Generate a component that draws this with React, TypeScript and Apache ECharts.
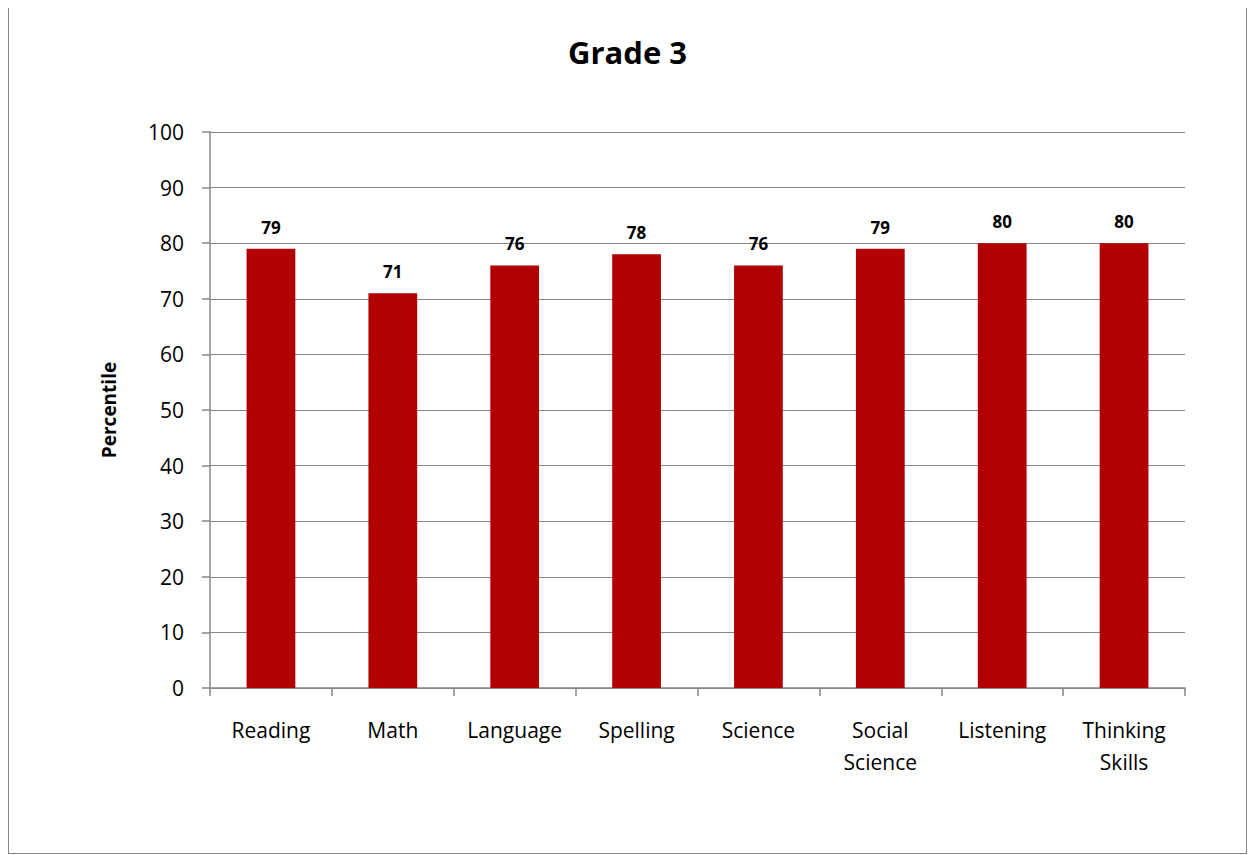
import React, { useEffect, useRef } from "react";
import * as echarts from "echarts";

const categories = ["Reading", "Math", "Language", "Spelling", "Science", "Social\nScience", "Listening", "Thinking\nSkills"];
const values = [79, 71, 76, 78, 76, 79, 80, 80];
const yTicks = { min: 0, max: 100, interval: 10 };

const FONT = "'Open Sans', 'Noto Sans', sans-serif";

export default function App() {
  const ref = useRef<HTMLDivElement>(null);
  useEffect(() => {
    if (!ref.current) return;
    const chart = echarts.init(ref.current, null, { renderer: "svg" });
    chart.setOption({
      animation: false,
      backgroundColor: "#ffffff",
      title: {
        text: "Grade 3",
        left: "center",
        top: 23,
        textStyle: { fontFamily: FONT, fontSize: 31, fontWeight: "bold", color: "#000" },
      },
      grid: { left: 201, right: 61, top: 124, bottom: 165, containLabel: false },
      xAxis: {
        type: "category",
        data: categories,
        axisLine: { lineStyle: { color: "#868686", width: 1.5 } },
        axisTick: { show: true, length: 8, lineStyle: { color: "#868686", width: 1.5 } },
        axisLabel: { fontFamily: FONT, fontSize: 21, color: "#000", margin: 26, lineHeight: 32, interval: 0 },
      },
      yAxis: {
        type: "value",
        min: yTicks.min,
        max: yTicks.max,
        interval: yTicks.interval,
        name: "Percentile",
        nameLocation: "middle",
        nameRotate: 90,
        nameGap: 92,
        nameTextStyle: { fontFamily: FONT, fontSize: 19, fontWeight: "bold", color: "#000" },
        axisLine: { show: true, lineStyle: { color: "#868686", width: 1.5 } },
        axisTick: { show: true, length: 8, lineStyle: { color: "#868686", width: 1.5 } },
        axisLabel: { fontFamily: FONT, fontSize: 21, color: "#000", margin: 26 },
        splitLine: { show: true, lineStyle: { color: "#868686", width: 1 } },
      },
      series: [
        {
          type: "bar",
          data: values,
          barWidth: "40%",
          itemStyle: { color: "#B00000" },
          label: {
            show: true,
            position: "top",
            distance: 13,
            fontFamily: FONT,
            fontSize: 17,
            fontWeight: "bold",
            color: "#000",
          },
        },
      ],
    });
    return () => chart.dispose();
  }, []);
  return (
    <div
      style={{
        width: 1239,
        height: 847,
        border: "1px solid #878787",
        boxSizing: "border-box",
        marginTop: -1,
      }}
    >
      <div ref={ref} style={{ width: 1237, height: 845 }} />
    </div>
  );
}
